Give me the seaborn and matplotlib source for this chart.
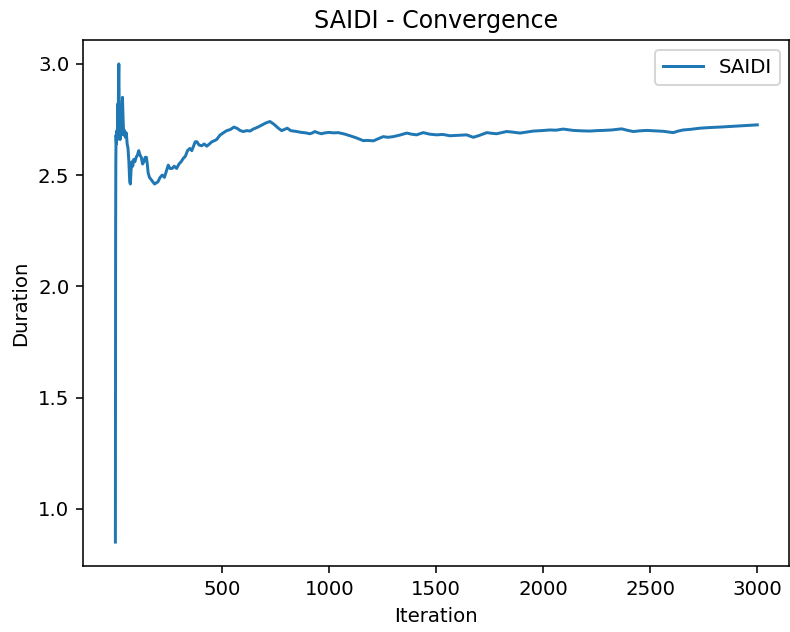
import matplotlib
matplotlib.use("Agg")
import matplotlib.pyplot as plt
import seaborn as sns
import pandas as pd

# Running SAIDI estimate over the simulation iterations
iteration = [
    1, 2, 3, 4, 6, 8, 10, 12, 14, 16, 17, 19, 21, 23, 25, 28, 31, 34, 37, 40,
    44, 48, 52, 56, 60, 64, 68, 71, 74, 78, 82, 86, 92, 98, 104, 110, 116, 122,
    128, 134, 140, 146, 150, 154, 160, 168, 176, 184, 192, 200, 210, 220, 230,
    240, 248, 256, 266, 276, 287, 298, 308, 318, 328, 338, 349, 358, 366, 374,
    382, 392, 404, 416, 428, 440, 452, 464, 474, 490, 505, 521, 538, 555, 570,
    585, 599, 615, 630, 645, 665, 685, 705, 723, 740, 752, 762, 778, 790, 804,
    820, 835, 848, 870, 890, 910, 922, 933, 948, 964, 980, 1000, 1020, 1042,
    1070, 1097, 1125, 1159, 1180, 1206, 1225, 1240, 1252, 1275, 1299, 1330,
    1362, 1385, 1408, 1439, 1470, 1502, 1530, 1564, 1600, 1642, 1673, 1700,
    1736, 1760, 1782, 1829, 1860, 1891, 1953, 1990, 2031, 2060, 2093, 2140,
    2180, 2218, 2250, 2280, 2320, 2366, 2395, 2421, 2450, 2483, 2520, 2561,
    2585, 2607, 2630, 2654, 2690, 2732, 2780, 2826, 2860, 2904, 2950, 3000,
]
saidi = [
    0.85, 2.20, 2.55, 2.68, 2.64, 2.70, 2.66, 2.82, 2.72, 2.95, 3.00, 2.80,
    2.70, 2.66, 2.72, 2.68, 2.78, 2.85, 2.75, 2.68, 2.70, 2.67, 2.69, 2.64,
    2.62, 2.56, 2.47, 2.46, 2.52, 2.56, 2.54, 2.57, 2.56, 2.58, 2.59, 2.61,
    2.59, 2.58, 2.55, 2.56, 2.58, 2.58, 2.55, 2.51, 2.49, 2.48, 2.47, 2.46,
    2.465, 2.47, 2.49, 2.50, 2.49, 2.52, 2.545, 2.53, 2.53, 2.54, 2.53, 2.55,
    2.56, 2.575, 2.585, 2.61, 2.62, 2.61, 2.63, 2.65, 2.65, 2.635, 2.632,
    2.64, 2.63, 2.64, 2.65, 2.655, 2.66, 2.68, 2.69, 2.70, 2.705, 2.716,
    2.71, 2.70, 2.696, 2.70, 2.698, 2.707, 2.715, 2.725, 2.735, 2.741, 2.73,
    2.72, 2.711, 2.70, 2.705, 2.711, 2.70, 2.698, 2.696, 2.692, 2.69, 2.686,
    2.69, 2.696, 2.69, 2.686, 2.69, 2.692, 2.69, 2.691, 2.685, 2.677, 2.668,
    2.655, 2.656, 2.654, 2.662, 2.668, 2.673, 2.67, 2.673, 2.68, 2.689, 2.684,
    2.681, 2.691, 2.684, 2.681, 2.683, 2.677, 2.679, 2.681, 2.67, 2.678,
    2.691, 2.688, 2.686, 2.696, 2.693, 2.689, 2.698, 2.70, 2.703, 2.702,
    2.707, 2.701, 2.699, 2.698, 2.70, 2.701, 2.703, 2.708, 2.701, 2.696,
    2.699, 2.701, 2.699, 2.697, 2.694, 2.691, 2.698, 2.703, 2.706, 2.711,
    2.714, 2.716, 2.718, 2.721, 2.723, 2.726,
]
xtick_values = [500, 1000, 1500, 2000, 2500, 3000]

df = pd.DataFrame({"Iteration": iteration, "Duration": saidi})

dpi = 142.3
fig = plt.figure(figsize=(790 / dpi, 632 / dpi), dpi=dpi)
ax = fig.add_axes([83.3 / 790, 66 / 632, (789.4 - 83.3) / 790, (566 - 40) / 632])

sns.lineplot(data=df, x="Iteration", y="Duration", label="SAIDI",
             color="#1f77b4", linewidth=1.5, ax=ax)

ax.set_xticks(xtick_values)
ax.set_title("SAIDI - Convergence")
ax.set_xlabel("Iteration")
ax.set_ylabel("Duration")
ax.legend(loc="upper right")

fig.savefig("out.png", dpi=dpi)
